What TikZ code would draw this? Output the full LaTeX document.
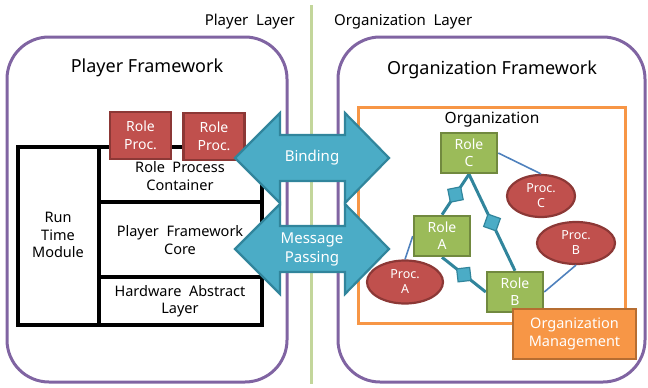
\documentclass[tikz,border=0pt]{standalone}
\usepackage{fontspec}
\setmainfont{Noto Sans}
\usetikzlibrary{shapes.geometric}
\definecolor{purp}{HTML}{8064A2}
\definecolor{lgreen}{HTML}{C3D69B}
\definecolor{orng}{HTML}{F79646}
\definecolor{orngb}{HTML}{B66D31}
\definecolor{redf}{HTML}{C0504D}
\definecolor{redb}{HTML}{8C3836}
\definecolor{grnf}{HTML}{9BBB59}
\definecolor{grnb}{HTML}{71893F}
\definecolor{tealf}{HTML}{4BACC6}
\definecolor{tealb}{HTML}{31859C}
\definecolor{blu}{HTML}{4F81BD}
\begin{document}
\begin{tikzpicture}[x=1pt,y=-1pt,
  frame/.style={draw=purp, line width=3pt, rounded corners=42pt},
  lbl/.style={font=\fontsize{14.5}{17.5}\selectfont, align=center, inner sep=0pt},
  title/.style={font=\fontsize{18}{22}\selectfont, inner sep=0pt},
  struct/.style={draw=black, line width=3.2pt},
  rproc/.style={draw=redb, fill=redf, line width=2.2pt, text=white, minimum width=61pt, minimum height=47pt, inner sep=0pt, align=center, font=\fontsize{14}{18}\selectfont},
  role/.style={draw=grnb, fill=grnf, line width=2.5pt, text=white, minimum width=56pt, minimum height=40pt, inner sep=0pt, align=center, font=\fontsize{14}{17}\selectfont},
  proc/.style={ellipse, draw=redb, fill=redf, line width=2.2pt, text=white, inner sep=0pt, align=center, font=\fontsize{12.5}{15}\selectfont},
  diam/.style={diamond, draw=tealb, fill=tealf, line width=1.2pt, minimum width=19pt, minimum height=19pt, inner sep=0pt, sloped},
  link/.style={draw=tealb, line width=3pt},
  thin/.style={draw=blu, line width=1.6pt},
  arr/.style={draw=tealb, fill=tealf, line width=2.2pt, line join=miter},
  arrtxt/.style={text=white, align=center, inner sep=0pt, font=\fontsize{15}{19}\selectfont}
]
\useasboundingbox (0,0) rectangle (648,388);

% layer divider
\draw[lgreen, line width=3.5pt] (311.5,5) -- (311.5,384);
\node[lbl, font=\fontsize{15}{18}\selectfont, anchor=east] (pl) at (295,22) {Player\ \ Layer};
\node[lbl, font=\fontsize{15}{18}\selectfont, anchor=west] (ol) at (334,22) {Organization\ \ Layer};

% frameworks
\draw[frame] (7,37) rectangle (287,382);
\draw[frame] (338,37) rectangle (645,382);
\node[title] (pf) at (147,68) {Player Framework};
\node[title] (of) at (492,70) {Organization Framework};

% player structure
\draw[struct] (18,147) rectangle (262,325);
\draw[struct] (99,147) -- (99,325);
\draw[struct] (99,202) -- (262,202);
\draw[struct] (99,277) -- (262,277);
\node[lbl] (rtm) at (58,235) {Run\\Time\\Module};
\node[lbl] (rpc) at (180,176) {Role\ \ Process\\Container};
\node[lbl] (pfc) at (180,240) {Player\ \ Framework\\Core};
\node[lbl] (hal) at (180,301) {Hardware\ \ Abstract\\Layer};

\node[rproc] (rp1) at (140.5,135.5) {Role\\Proc.};
\node[rproc] (rp2) at (214,136.5) {Role\\Proc.};

% organization
\draw[draw=orng, line width=3pt] (358,107) rectangle (625,323);
\node[lbl, font=\fontsize{15.5}{18}\selectfont] (org) at (492,120) {Organization};

\node[role] (rc) at (469,153) {Role\\C};
\node[role] (ra) at (442,236) {Role\\A};
\node[role] (rb) at (515,292) {Role\\B};
\node[proc, minimum width=68pt, minimum height=42pt] (pc) at (541,196) {Proc.\\C};
\node[proc, minimum width=78pt, minimum height=42pt] (pb) at (576,243) {Proc.\\B};
\node[proc, minimum width=76pt, minimum height=43pt] (pa) at (405,282) {Proc.\\A};

\draw[thin] (rc.east) -- (pc.north);
\draw[thin] (ra.west) -- (pa.north);
\draw[thin] (rb.east) -- (pb.south);
\draw[link] (rc.south) -- node[diam]{} (ra.north);
\draw[link] (rc.south) -- node[diam]{} (rb.north);
\draw[link] (ra.south) -- node[diam]{} (rb.west);
\node[role] at (469,153) {Role\\C};
\node[role] at (442,236) {Role\\A};
\node[role] at (515,292) {Role\\B};

\node[draw=orngb, fill=orng, line width=2.5pt, text=white, minimum width=123pt, minimum height=50pt, inner sep=0pt, align=center, font=\fontsize{14.5}{18}\selectfont] (om) at (574.5,334) {Organization\\Management};

% arrows
\path[arr] (235,158) -- (280,113) -- (280,135) -- (345,135) -- (345,113) -- (389,158)
  -- (345,203) -- (345,181) -- (280,181) -- (280,203) -- cycle;
\node[arrtxt] (bind) at (312,158) {Binding};
\path[arr] (235,249) -- (280,204) -- (280,226) -- (345,226) -- (345,204) -- (389,249)
  -- (345,294) -- (345,272) -- (280,272) -- (280,294) -- cycle;
\node[arrtxt] (msg) at (312,249) {Message\\Passing};
\end{tikzpicture}
\end{document}
